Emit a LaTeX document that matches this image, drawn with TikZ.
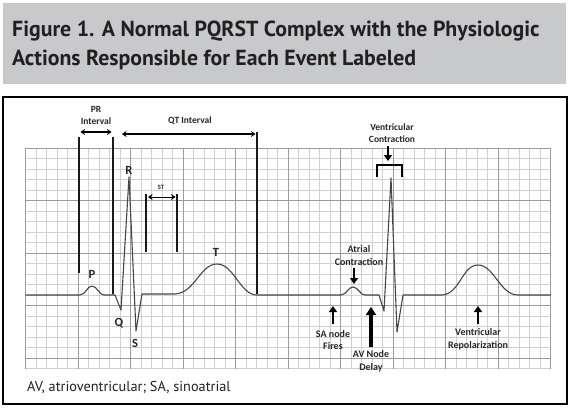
\documentclass[tikz,border=0pt]{standalone}
\usepackage{fontspec}
\setmainfont{PT Sans}
\newfontfamily\labfont{Carlito}
\usetikzlibrary{arrows.meta}
\definecolor{band}{RGB}{200,201,203}
\definecolor{titlecol}{RGB}{35,31,32}
\definecolor{minorgrid}{RGB}{208,208,208}
\definecolor{majorgrid}{RGB}{155,155,155}
\definecolor{ecg}{RGB}{70,70,70}
\tikzset{
  lab/.style={font=\labfont\bfseries\fontsize{10}{12.5}\selectfont, align=center, inner sep=0pt, text=black!85},
  wave/.style={font=\labfont\bfseries\fontsize{12.5}{14}\selectfont, inner sep=0pt, text=black!85},
  bar/.style={line width=1.8pt, black!90},
  dbl/.style={line width=1.2pt, {Stealth[length=4.5pt,width=6pt]}-{Stealth[length=4.5pt,width=6pt]}},
  fat/.style={line width=2.6pt, -{Triangle[length=6pt,width=8pt]}},
  fatter/.style={line width=3.2pt, -{Triangle[length=8pt,width=10pt]}},
  trace/.style={line width=1.1pt, ecg, line join=round},
}
\begin{document}
\begin{tikzpicture}[x=1pt,y=-1pt]
\useasboundingbox (0,0) rectangle (570,408);
% title band
\fill[band] (3,3) rectangle (566,84);
\node[anchor=base west, inner sep=0pt, text=titlecol, font=\bfseries\fontsize{21.8}{26}\selectfont] (t1) at (12,36) {Figure 1. A Normal PQRST Complex with the Physiologic};
\node[anchor=base west, inner sep=0pt, text=titlecol, font=\bfseries\fontsize{21.8}{26}\selectfont] (t2) at (12,65) {Actions Responsible for Each Event Labeled};
% frame
\draw[line width=1.3pt] (3,97) rectangle (567,404);
% grid
\foreach \i in {0,...,50} \draw[minorgrid, line width=0.5pt] ({25.5+10.5*\i},148) -- ({25.5+10.5*\i},368.5);
\foreach \j in {0,...,21} \draw[minorgrid, line width=0.5pt] (25.5,{148+10.5*\j}) -- (550.5,{148+10.5*\j});
\foreach \i in {0,...,10} \draw[majorgrid, line width=0.6pt] ({25.5+52.5*\i},148) -- ({25.5+52.5*\i},368.5);
\foreach \j in {0,...,4} \draw[majorgrid, line width=0.6pt] (25.5,{148+52.5*\j}) -- (550.5,{148+52.5*\j});
% ECG trace
\draw[trace] (25.5,295) -- (80,295)
  .. controls (86,294.5) and (87,286) .. (92,286)
  .. controls (97,286) and (99,295) .. (104,295)
  -- (115,295) -- (121,310) -- (129,177) -- (136,331) -- (142,294) -- (175,294)
  .. controls (195,293) and (200,264) .. (217,264)
  .. controls (234,264) and (240,295) .. (257,295)
  -- (341,295)
  .. controls (347,294.5) and (348,287) .. (353,287)
  .. controls (358,287) and (360,295) .. (365,295)
  -- (379,295) -- (384,311) -- (391,178) -- (397,332) -- (403,295) -- (442,295)
  .. controls (460,294) and (462,265) .. (478,265)
  .. controls (494,265) and (500,295) .. (518,295)
  -- (551,295);
% wave labels
\node[wave] (P) at (92,274) {P};
\node[wave] (Q) at (119,323) {Q};
\node[wave] (R) at (129,170) {R};
\node[wave] (S) at (135,343) {S};
\node[wave] (T) at (216,252) {T};
% interval bars
\coordinate (pr1t) at (79,137); \coordinate (pr1b) at (79,273);
\coordinate (pr2t) at (113,137); \coordinate (pr2b) at (113,294);
\coordinate (qtt) at (257,132); \coordinate (qtb) at (257,294);
\coordinate (st1t) at (146,194); \coordinate (st1b) at (146,252);
\coordinate (st2t) at (177,194); \coordinate (st2b) at (177,252);
\draw[bar] (pr1t) -- (pr1b);
\draw[bar] (pr2t) -- (pr2b);
\draw[bar] (qtt) -- (qtb);
\draw[bar] (st1t) -- (st1b);
\draw[bar] (st2t) -- (st2b);
% interval arrows
\coordinate (prl) at (80.5,132); \coordinate (prr) at (111.5,132);
\coordinate (qtl) at (122,134); \coordinate (qtr) at (255.5,134);
\coordinate (stl) at (148,197); \coordinate (str) at (175.5,197);
\draw[dbl] (prl) -- (prr);
\draw[dbl] (qtl) -- (qtr);
\draw[dbl, line width=1pt] (stl) -- (str);
\node[lab, font=\labfont\bfseries\fontsize{9.5}{12}\selectfont] (prlab) at (96,115) {PR\\Interval};
\node[lab, font=\labfont\bfseries\fontsize{9.5}{12}\selectfont] (qtlab) at (190,121) {QT Interval};
\node[lab, font=\labfont\bfseries\fontsize{6.5}{7}\selectfont] (stlab) at (161,187) {ST};
% second beat annotations
\node[lab, font=\labfont\bfseries\fontsize{9.5}{12}\selectfont] (vc) at (392,133) {Ventricular\\Contraction};
\coordinate (vca) at (388,146); \coordinate (vcb) at (388,161);
\draw[fat] (vca) -- (vcb);
\coordinate (br1) at (377,177); \coordinate (br2) at (377,165); \coordinate (br3) at (402,165); \coordinate (br4) at (402,177);
\draw[line width=1.8pt] (br1) -- (br2) -- (br3) -- (br4);
\node[lab] (ac) at (359,255.5) {Atrial\\Contraction};
\coordinate (aca) at (354,268); \coordinate (acb) at (354,284);
\draw[fat] (aca) -- (acb);
\coordinate (saa) at (333,324); \coordinate (sab) at (333,306);
\draw[fat] (saa) -- (sab);
\node[lab] (sa) at (333,340) {SA node\\Fires};
\coordinate (ava) at (371,347); \coordinate (avb) at (371,307);
\draw[fatter] (ava) -- (avb);
\node[lab] (av) at (371,361.5) {AV Node\\Delay};
\coordinate (vra) at (478,324); \coordinate (vrb) at (478,306);
\draw[fat] (vra) -- (vrb);
\node[lab] (vr) at (478,339.5) {Ventricular\\Repolarization};
% footnote
\node[anchor=base west, inner sep=0pt, text=titlecol, font=\fontsize{14.3}{16}\selectfont] (fn) at (27,391) {AV, atrioventricular; SA, sinoatrial};
\end{tikzpicture}
\end{document}
